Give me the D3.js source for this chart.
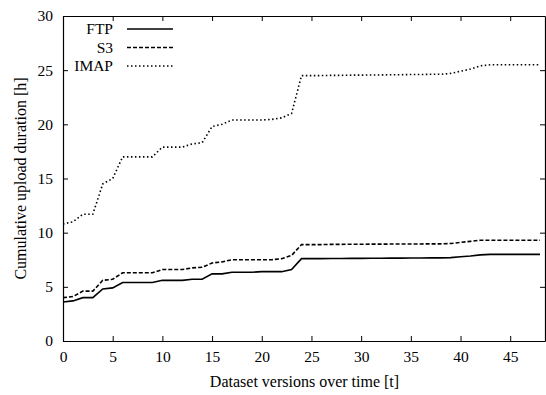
<!DOCTYPE html>
<html lang="en">
<head>
  <meta charset="UTF-8">
  <title>Cumulative upload duration</title>
  <script src="https://d3js.org/d3.v7.min.js"></script>
  <style>
    body { margin: 0; background: #fff; }
    svg { display: block; font-family: "Liberation Serif", "DejaVu Serif", serif; }
  </style>
</head>
<body>
  <svg id="chart" width="546" height="395"></svg>
  <script>
    // values per dataset version (t = 0..48)
    const versions = d3.range(0, 49);
    const ftp = [3.6, 3.7, 4.0, 4.0, 4.8, 4.9, 5.4, 5.4, 5.4, 5.4,
                 5.6, 5.6, 5.6, 5.7, 5.7, 6.2, 6.2, 6.35, 6.35, 6.35,
                 6.4, 6.4, 6.4, 6.6, 7.6, 7.6, 7.6, 7.62, 7.62, 7.63,
                 7.63, 7.64, 7.64, 7.65, 7.65, 7.66, 7.66, 7.67, 7.67, 7.7,
                 7.78, 7.85, 7.95, 8.0, 8.0, 8.0, 8.0, 8.0, 8.0];
    const s3 = [4.0, 4.1, 4.6, 4.6, 5.6, 5.7, 6.3, 6.3, 6.3, 6.3,
                6.6, 6.6, 6.6, 6.75, 6.8, 7.2, 7.3, 7.5, 7.5, 7.5,
                7.5, 7.5, 7.6, 7.9, 8.9, 8.9, 8.9, 8.92, 8.92, 8.93,
                8.93, 8.94, 8.94, 8.95, 8.95, 8.96, 8.96, 8.97, 8.97, 9.0,
                9.1, 9.2, 9.3, 9.3, 9.3, 9.3, 9.3, 9.3, 9.3];
    const imap = [10.8, 11.0, 11.7, 11.7, 14.5, 15.0, 17.0, 17.0, 17.0, 17.0,
                  17.9, 17.9, 17.9, 18.2, 18.3, 19.8, 20.0, 20.4, 20.4, 20.4,
                  20.4, 20.45, 20.6, 21.0, 24.5, 24.5, 24.5, 24.52, 24.52, 24.54,
                  24.54, 24.56, 24.56, 24.58, 24.58, 24.6, 24.6, 24.62, 24.62, 24.7,
                  24.9, 25.1, 25.4, 25.5, 25.5, 25.5, 25.5, 25.5, 25.5];
    const seriesNames = ["FTP", "S3", "IMAP"];
    const seriesDash = ["none", "4,2", "1.5,2.5"];
    const xTicks = [0, 5, 10, 15, 20, 25, 30, 35, 40, 45];
    const yTicks = [0, 5, 10, 15, 20, 25, 30];

    const margin = { top: 16, right: 1, bottom: 54, left: 63 },
          width = 546 - margin.left - margin.right,
          height = 395 - margin.top - margin.bottom;

    const svg = d3.select("#chart");
    const g = svg.append("g").attr("transform", `translate(${margin.left},${margin.top})`);

    const x = d3.scaleLinear().domain([0, 48.5]).range([0, width]);
    const y = d3.scaleLinear().domain([0, 30]).range([height, 0]);

    // axes with inward ticks, mirrored on top and right
    g.append("g").attr("transform", `translate(0,${height})`)
      .call(d3.axisBottom(x).tickValues(xTicks).tickSizeInner(-5).tickSizeOuter(0).tickPadding(10));
    g.append("g")
      .call(d3.axisLeft(y).tickValues(yTicks).tickSizeInner(-5).tickSizeOuter(0).tickPadding(10));
    g.append("g")
      .call(d3.axisTop(x).tickValues(xTicks).tickSizeInner(-5).tickSizeOuter(0).tickFormat(""));
    g.append("g").attr("transform", `translate(${width},0)`)
      .call(d3.axisRight(y).tickValues(yTicks).tickSizeInner(-5).tickSizeOuter(0).tickFormat(""));

    g.selectAll(".domain").attr("stroke", "#000").attr("stroke-width", 1.2);
    g.selectAll(".tick line").attr("stroke", "#000");
    g.selectAll(".tick text")
      .attr("fill", "#000")
      .style("font-family", "'Liberation Serif', 'DejaVu Serif', serif")
      .style("font-size", "15.5px");

    // axis titles
    svg.append("text")
      .attr("x", margin.left + x(24.3))
      .attr("y", 387)
      .attr("text-anchor", "middle")
      .style("font-size", "16px")
      .text("Dataset versions over time [t]");
    svg.append("text")
      .attr("transform", `translate(26,${margin.top + height / 2}) rotate(-90)`)
      .attr("text-anchor", "middle")
      .style("font-size", "16px")
      .text("Cumulative upload duration [h]");

    // lines
    const allSeries = [ftp, s3, imap];
    const line = d3.line().x((d, i) => x(versions[i])).y(d => y(d));
    allSeries.forEach((vals, k) => {
      g.append("path")
        .datum(vals)
        .attr("fill", "none")
        .attr("stroke", "#000")
        .attr("stroke-width", 1.6)
        .attr("stroke-dasharray", seriesDash[k])
        .attr("d", line);
    });

    // legend
    const legend = g.append("g");
    seriesNames.forEach((name, k) => {
      const ly = 13 + k * 18.5;
      legend.append("text")
        .attr("x", 50)
        .attr("y", ly)
        .attr("dy", "0.35em")
        .attr("text-anchor", "end")
        .style("font-size", "15.5px")
        .text(name);
      legend.append("line")
        .attr("x1", 64).attr("x2", 110)
        .attr("y1", ly).attr("y2", ly)
        .attr("stroke", "#000")
        .attr("stroke-width", 1.6)
        .attr("stroke-dasharray", seriesDash[k]);
    });
  </script>
</body>
</html>
